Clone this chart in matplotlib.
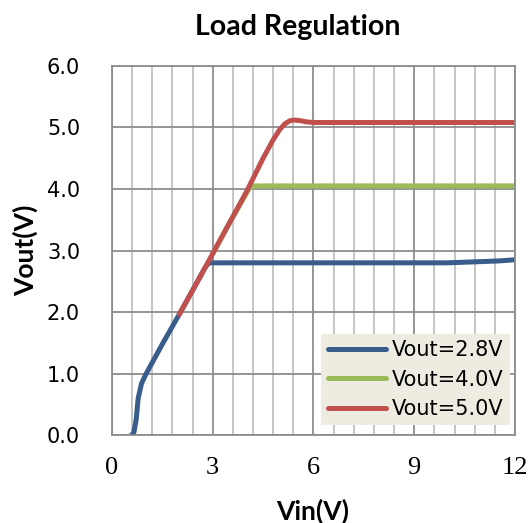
import numpy as np
from matplotlib import pyplot as plt
from matplotlib.ticker import MultipleLocator

# curves
vin_28 = [0.58, 0.65, 0.72, 0.78, 0.88, 1.0, 1.13, 1.5, 2.0, 2.5, 2.75, 2.85, 2.92, 4.0, 6.0, 8.0, 10.0, 10.5, 11.0, 11.5, 12.0]
vout_28 = [0.0, 0.04, 0.25, 0.6, 0.84, 0.98, 1.11, 1.48, 1.96, 2.45, 2.7, 2.78, 2.8, 2.8, 2.8, 2.8, 2.8, 2.81, 2.82, 2.83, 2.85]

vin_40 = [3.0, 3.5, 4.1, 4.2, 6.0, 9.0, 12.0]
vout_40 = [2.95, 3.45, 4.02, 4.05, 4.05, 4.05, 4.05]

vin_50 = [2.0, 2.5, 3.0, 3.5, 4.0, 4.5, 4.8, 5.0, 5.15, 5.3, 5.45, 5.6, 5.8, 6.0, 8.0, 10.0, 12.0]
vout_50 = [1.96, 2.45, 2.95, 3.45, 3.95, 4.5, 4.8, 4.97, 5.06, 5.11, 5.12, 5.11, 5.09, 5.08, 5.08, 5.08, 5.08]

series = [
    ('Vout=2.8V', vin_28, vout_28, '#385D8A'),
    ('Vout=4.0V', vin_40, vout_40, '#9BBB59'),
    ('Vout=5.0V', vin_50, vout_50, '#C0504D'),
]

plt.rcParams['font.family'] = 'DejaVu Sans'

fig = plt.figure(figsize=(5.32, 5.23), dpi=100)
ax = fig.add_axes([0.2105, 0.168, 0.7575, 0.706])

for label, x, y, c in series:
    ax.plot(x, y, color=c, lw=3.6, label=label, solid_capstyle='round', solid_joinstyle='round')

ax.set_xlim(0, 12)
ax.set_ylim(0, 6)
ax.xaxis.set_major_locator(MultipleLocator(3))
ax.xaxis.set_minor_locator(MultipleLocator(0.6))
ax.yaxis.set_major_locator(MultipleLocator(1))
ax.set_yticklabels([f'{v:.1f}' for v in ax.get_yticks()])

ax.grid(which='major', axis='both', color='#8C8C8C', lw=1.3, zorder=0)
ax.grid(which='minor', axis='x', color='#C0C0C0', lw=1.3, zorder=0)
ax.set_axisbelow(True)
ax.tick_params(which='both', length=0)
ax.tick_params(axis='y', labelsize=15, pad=23)
ax.tick_params(axis='x', labelsize=19, pad=16)
for t in ax.get_xticklabels():
    t.set_family('Liberation Serif')
for t in ax.get_yticklabels():
    t.set_family('DejaVu Sans')
for s in ax.spines.values():
    s.set_color('#8C8C8C')
    s.set_linewidth(1.3)

leg = ax.legend(loc='lower right', bbox_to_anchor=(0.988, 0.027), borderaxespad=0,
                fontsize=15, handlelength=2.8, handletextpad=0.3, labelspacing=0.45,
                fancybox=False, framealpha=1, borderpad=0.3)
leg.get_frame().set_facecolor('#EEECE1')
leg.get_frame().set_edgecolor('none')

fig.text(298 / 532, 1 - 27 / 523, 'Load Regulation', ha='center', va='center',
         fontsize=20.5, fontweight='bold', family='Lato')
fig.text(313 / 532, 1 - 511 / 523, 'Vin(V)', ha='center', va='center',
         fontsize=19, fontweight='bold', family='Lato')
fig.text(25 / 532, 1 - 250 / 523, 'Vout(V)', ha='center', va='center', rotation=90,
         fontsize=19, fontweight='bold', family='Lato')

fig.savefig('out.png', dpi=100)
